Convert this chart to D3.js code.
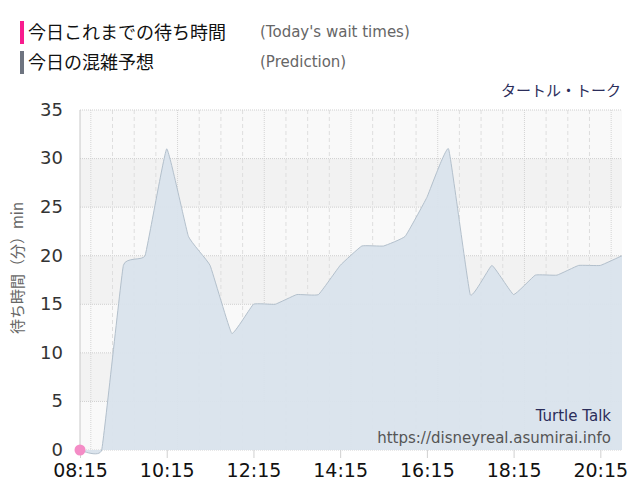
<!DOCTYPE html>
<html>
<head>
<meta charset="utf-8">
<script src="https://cdn.jsdelivr.net/npm/d3@7"></script>
<style>
  body { margin: 0; background: #fff; }
  #chart { width: 640px; height: 500px; }
  text { font-family: "DejaVu Sans", "Noto Sans CJK JP", sans-serif; }
  .jp { font-family: "Noto Sans CJK JP", sans-serif; }
</style>
</head>
<body>
<div id="chart"></div>
<script>
// prediction (every 30 min)
const predTimes = ["08:15", "08:45", "09:15", "09:45", "10:15", "10:45", "11:15", "11:45",
    "12:15", "12:45", "13:15", "13:45", "14:15", "14:45", "15:15", "15:45", "16:15", "16:45",
    "17:15", "17:45", "18:15", "18:45", "19:15", "19:45", "20:15", "20:45"];
const predValues = [0, 0, 19, 20, 31, 22, 19, 12,
    15, 15, 16, 16, 19, 21, 21, 22, 26, 31,
    16, 19, 16, 18, 18, 19, 19, 20];

// today's actual wait times so far
const todayTimes = ["08:15"];
const todayValues = [0];

const xTickLabels = ["08:15", "10:15", "12:15", "14:15", "16:15", "18:15", "20:15"];
const yTickValues = [0, 5, 10, 15, 20, 25, 30, 35];

const legendItems = [
    { label: "今日これまでの待ち時間", sub: "(Today's wait times)", color: "#f81c8e" },
    { label: "今日の混雑予想", sub: "(Prediction)", color: "#6e7480" }
];

const parseTime = d3.timeParse("%H:%M");

const margin = { top: 110, right: 18, bottom: 50, left: 80 };
const width = 640 - margin.left - margin.right;
const height = 500 - margin.top - margin.bottom;

const svg = d3.select("#chart").append("svg")
    .attr("width", 640)
    .attr("height", 500);

const g = svg.append("g")
    .attr("transform", "translate(" + margin.left + "," + margin.top + ")");

// scales
const x = d3.scaleTime()
    .domain([parseTime("08:15"), parseTime("20:45")])
    .range([0, width]);

const y = d3.scaleLinear()
    .domain([0, 35])
    .range([height, 0]);

// alternating background bands
const bands = d3.range(0, 35, 5);
g.selectAll(".band")
    .data(bands)
    .enter().append("rect")
    .attr("class", "band")
    .attr("x", 0)
    .attr("width", width)
    .attr("y", d => y(d + 5))
    .attr("height", d => y(d) - y(d + 5))
    .attr("fill", (d, i) => i % 2 === 0 ? "#f9f9f9" : "#f2f2f2");

// vertical grid every 30 minutes
const halfHours = d3.timeMinute.every(30).range(parseTime("08:15"), d3.timeMinute.offset(parseTime("20:45"), 1));
g.selectAll(".vgrid")
    .data(halfHours)
    .enter().append("line")
    .attr("class", "vgrid")
    .attr("x1", d => x(d))
    .attr("x2", d => x(d))
    .attr("y1", 0)
    .attr("y2", height)
    .attr("stroke", (d, i) => i % 4 === 0 ? "#d4d4d4" : "#dedede")
    .attr("stroke-dasharray", (d, i) => i % 4 === 0 ? "1,1" : "4,3");

// horizontal grid
g.selectAll(".hgrid")
    .data(yTickValues)
    .enter().append("line")
    .attr("class", "hgrid")
    .attr("x1", 0)
    .attr("x2", width)
    .attr("y1", d => y(d))
    .attr("y2", d => y(d))
    .attr("stroke", "#cfcfcf")
    .attr("stroke-dasharray", "1,1");

// prediction area
const predData = predTimes.map((t, i) => ({ time: parseTime(t), value: predValues[i] }));

const curve = d3.curveCardinal.tension(0.72);

const area = d3.area()
    .x(d => x(d.time))
    .y0(y(0))
    .y1(d => y(d.value))
    .curve(curve);

const line = d3.line()
    .x(d => x(d.time))
    .y(d => y(d.value))
    .curve(curve);

g.append("path")
    .datum(predData)
    .attr("d", area)
    .attr("fill", "#d9e3ec")
    .attr("fill-opacity", 0.95);

g.append("path")
    .datum(predData)
    .attr("d", line)
    .attr("fill", "none")
    .attr("stroke", "#b3c0cc")
    .attr("stroke-width", 1);

// y axis line
g.append("line")
    .attr("x1", 0).attr("x2", 0)
    .attr("y1", 0).attr("y2", height)
    .attr("stroke", "#c8c8c8");

// axes
const xAxis = d3.axisBottom(x)
    .tickValues(xTickLabels.map(parseTime))
    .tickFormat(d3.timeFormat("%H:%M"))
    .tickSize(8)
    .tickPadding(6);

const xg = g.append("g")
    .attr("transform", "translate(0," + height + ")")
    .call(xAxis);
xg.select(".domain").remove();
xg.selectAll(".tick line").attr("stroke", "#d0d0d0");
xg.selectAll(".tick text")
    .attr("fill", "#111")
    .style("font-size", "19px");

const yAxis = d3.axisLeft(y)
    .tickValues(yTickValues)
    .tickSize(0)
    .tickPadding(17);

const yg = g.append("g").call(yAxis);
yg.select(".domain").remove();
yg.selectAll(".tick text")
    .attr("fill", "#333")
    .attr("dy", "0.3em")
    .style("font-size", "18px");

// today's points
g.selectAll(".today")
    .data(todayTimes.map((t, i) => ({ time: parseTime(t), value: todayValues[i] })))
    .enter().append("circle")
    .attr("class", "today")
    .attr("cx", d => x(d.time))
    .attr("cy", d => y(d.value))
    .attr("r", 5.5)
    .attr("fill", "#f48cc6");

// y axis title
svg.append("text")
    .attr("class", "jp")
    .attr("transform", "translate(23," + (margin.top + height / 2 - 12) + ") rotate(-90)")
    .attr("text-anchor", "middle")
    .attr("fill", "#666")
    .style("font-size", "15px")
    .text("待ち時間（分）min");

// legend
const legend = svg.append("g").attr("class", "legend");
const legendRows = legend.selectAll(".legend-item")
    .data(legendItems)
    .enter().append("g")
    .attr("class", "legend-item")
    .attr("transform", (d, i) => "translate(20," + (21 + i * 30) + ")");

legendRows.append("rect")
    .attr("width", 4)
    .attr("height", 23)
    .attr("fill", d => d.color);

legendRows.append("text")
    .attr("class", "jp")
    .attr("x", 8)
    .attr("y", 18)
    .attr("fill", "#111")
    .style("font-size", "18px")
    .text(d => d.label);

legendRows.append("text")
    .attr("x", 240)
    .attr("y", 16)
    .attr("fill", "#666")
    .style("font-size", "15px")
    .text(d => d.sub);

// chart title
svg.append("text")
    .attr("class", "jp")
    .attr("x", 621)
    .attr("y", 96)
    .attr("text-anchor", "end")
    .attr("fill", "#2b2d5a")
    .style("font-size", "15px")
    .text("タートル・トーク");

// watermark
svg.append("text")
    .attr("x", 611)
    .attr("y", 421)
    .attr("text-anchor", "end")
    .attr("fill", "#2b2d5a")
    .style("font-size", "15px")
    .text("Turtle Talk");

svg.append("text")
    .attr("x", 611)
    .attr("y", 443)
    .attr("text-anchor", "end")
    .attr("fill", "#555")
    .style("font-size", "15px")
    .text("https://disneyreal.asumirai.info");
</script>
</body>
</html>
